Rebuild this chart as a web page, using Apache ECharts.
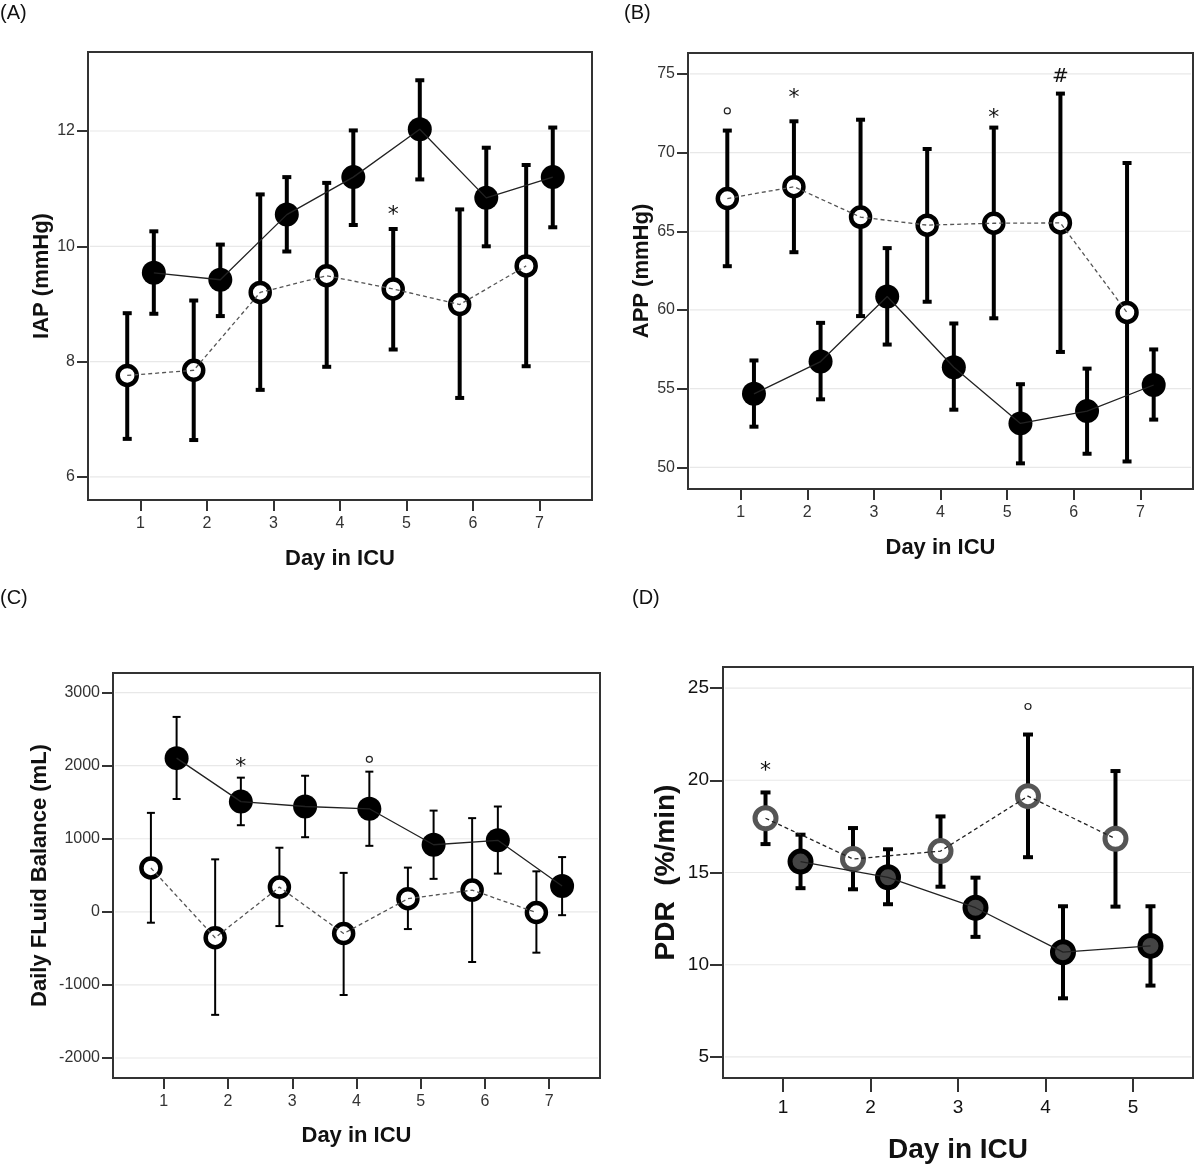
<!DOCTYPE html>
<html>
<head>
<meta charset="utf-8">
<title>IAP / APP / Fluid balance / PDR by day in ICU</title>
<script src="https://cdn.jsdelivr.net/npm/echarts@6/dist/echarts.min.js"></script>
<style>
  html, body { margin: 0; padding: 0; background: #fff; }
  #chart { width: 1200px; height: 1167px; }
</style>
</head>
<body>
<div id="chart"></div>
<script>
// x categories
const days7 = [1, 2, 3, 4, 5, 6, 7]
const days5 = [1, 2, 3, 4, 5]

// (A) IAP (mmHg): open = dashed group, filled = solid group
const iapOpen = [7.76, 7.85, 9.20, 9.49, 9.26, 8.99, 9.66]
const iapOpenLo = [6.66, 6.64, 7.51, 7.91, 8.21, 7.37, 7.92]
const iapOpenHi = [8.84, 9.06, 10.90, 11.10, 10.30, 10.64, 11.41]
const iapFilled = [9.54, 9.42, 10.55, 11.20, 12.03, 10.84, 11.20]
const iapFilledLo = [8.83, 8.79, 9.91, 10.37, 11.16, 10.00, 10.33]
const iapFilledHi = [10.26, 10.03, 11.20, 12.01, 12.88, 11.71, 12.06]
const iapTicks = [6, 8, 10, 12]
const iapNotes = [[4.8, 10.62, '*']]

// (B) APP (mmHg)
const appOpen = [67.08, 67.83, 65.90, 65.39, 65.51, 65.53, 59.84]
const appOpenLo = [62.78, 63.67, 59.61, 60.52, 59.47, 57.33, 50.37]
const appOpenHi = [71.40, 71.99, 72.09, 70.23, 71.59, 73.75, 69.34]
const appFilled = [54.67, 56.72, 60.85, 56.36, 52.79, 53.57, 55.23]
const appFilledLo = [52.58, 54.32, 57.80, 53.66, 50.25, 50.86, 53.03]
const appFilledHi = [56.79, 59.18, 63.93, 59.14, 55.28, 56.27, 57.49]
const appTicks = [50, 55, 60, 65, 70, 75]
const appNotes = [[0.8, 72.65, 'o'], [1.8, 73.8, '*'], [4.8, 72.5, '*'], [5.8, 74.8, '#']]

// (C) Daily fluid balance (mL)
const fbOpen = [600, -354, 338, -297, 179, 297, -10]
const fbOpenLo = [-149, -1410, -195, -1138, -236, -687, -559]
const fbOpenHi = [1354, 718, 877, 533, 605, 1282, 554]
const fbFilled = [2103, 1508, 1441, 1410, 918, 979, 354]
const fbFilledLo = [1544, 1185, 1021, 903, 451, 523, -46]
const fbFilledHi = [2667, 1836, 1862, 1918, 1385, 1441, 749]
const fbTicks = [-2000, -1000, 0, 1000, 2000, 3000]
const fbNotes = [[2.2, 2051, '*'], [4.2, 2087, 'o']]

// (D) PDR (%/min)
const pdrOpen = [17.94, 15.73, 16.16, 19.14, 16.83]
const pdrOpenLo = [16.54, 14.09, 14.23, 15.83, 13.15]
const pdrOpenHi = [19.34, 17.41, 18.04, 22.48, 20.50]
const pdrFilled = [15.59, 14.74, 13.09, 10.68, 11.02]
const pdrFilledLo = [14.15, 13.28, 11.51, 8.18, 8.87]
const pdrFilledHi = [17.05, 16.26, 14.72, 13.17, 13.17]
const pdrTicks = [5, 10, 15, 20, 25]
const pdrNotes = [[0.8, 20.76, '*'], [3.8, 24.0, 'o']]

const FONT = 'Liberation Sans, Arial, sans-serif'
const OFF = 0.2 // dodge of the two groups around each day

const panels = [
  {
    tag: '(A)', tagPos: [0, 3], box: [88, 52, 504, 448],
    xMin: 0.21, xMax: 7.79, yMin: 5.6, yMax: 13.37, days: days7, yTicks: iapTicks,
    yName: 'IAP (mmHg)', yGap: 35, xGap: 48, nameSize: 22, tickSize: 16, tickColor: '#333',
    open: [iapOpen, iapOpenLo, iapOpenHi], filled: [iapFilled, iapFilledLo, iapFilledHi],
    notes: iapNotes, barW: 4, capW: 4.5, big: false
  },
  {
    tag: '(B)', tagPos: [624, 3], box: [688, 53, 505, 436],
    xMin: 0.21, xMax: 7.79, yMin: 48.62, yMax: 76.33, days: days7, yTicks: appTicks,
    yName: 'APP (mmHg)', yGap: 33, xGap: 48, nameSize: 22, tickSize: 16, tickColor: '#333',
    open: [appOpen, appOpenLo, appOpenHi], filled: [appFilled, appFilledLo, appFilledHi],
    notes: appNotes, barW: 4, capW: 4.5, big: false
  },
  {
    tag: '(C)', tagPos: [0, 588], box: [113, 673, 487, 405],
    xMin: 0.21, xMax: 7.79, yMin: -2274, yMax: 3268, days: days7, yTicks: fbTicks,
    yName: 'Daily FLuid Balance (mL)', yGap: 62, xGap: 47, nameSize: 22, tickSize: 16, tickColor: '#333',
    open: [fbOpen, fbOpenLo, fbOpenHi], filled: [fbFilled, fbFilledLo, fbFilledHi],
    notes: fbNotes, barW: 2, capW: 4, big: false
  },
  {
    tag: '(D)', tagPos: [632, 588], box: [723, 667, 470, 411],
    xMin: 0.314, xMax: 5.686, yMin: 3.86, yMax: 26.14, days: days5, yTicks: pdrTicks,
    yName: 'PDR  (%/min)', yGap: 43, xGap: 58, nameSize: 28, tickSize: 19, tickColor: '#111',
    open: [pdrOpen, pdrOpenLo, pdrOpenHi], filled: [pdrFilled, pdrFilledLo, pdrFilledHi],
    notes: pdrNotes, barW: 4, capW: 5, big: true
  }
]

const grids = []
const xAxes = []
const yAxes = []
const series = []
const graphics = []

panels.forEach((p, k) => {
  grids.push({
    left: p.box[0], top: p.box[1], width: p.box[2], height: p.box[3],
    show: true, borderColor: '#333', borderWidth: 2, backgroundColor: '#fff',
    containLabel: false, outerBoundsMode: 'none'
  })
  xAxes.push({
    gridIndex: k, type: 'value', min: p.xMin, max: p.xMax,
    name: 'Day in ICU', nameLocation: 'middle', nameGap: p.xGap,
    nameTextStyle: { fontFamily: FONT, fontWeight: 'bold', fontSize: p.nameSize, color: '#111' },
    axisLine: { show: true, onZero: false, lineStyle: { color: '#333', width: 2 } },
    axisTick: { show: true, length: p.big ? 14 : 11, customValues: p.days, lineStyle: { color: '#333', width: 2 } },
    axisLabel: { customValues: p.days, margin: p.big ? 20 : 16, fontFamily: FONT, fontSize: p.tickSize, color: p.tickColor },
    splitLine: { show: false }
  })
  yAxes.push({
    gridIndex: k, type: 'value', min: p.yMin, max: p.yMax,
    name: p.yName, nameLocation: 'middle', nameGap: p.yGap, nameRotate: 90,
    nameTextStyle: { fontFamily: FONT, fontWeight: 'bold', fontSize: p.nameSize, color: '#111' },
    axisLine: { show: true, onZero: false, lineStyle: { color: '#333', width: 2 } },
    axisTick: { show: true, length: p.big ? 13 : 11, customValues: p.yTicks, lineStyle: { color: '#333', width: 2 } },
    axisLabel: {
      customValues: p.yTicks, margin: p.big ? 14 : 13, fontFamily: FONT, fontSize: p.tickSize, color: p.tickColor,
      formatter: v => String(v)
    },
    splitLine: { show: false }
  })

  // light horizontal gridlines at the tick values
  series.push({
    type: 'custom', xAxisIndex: k, yAxisIndex: k, z: 1, silent: true,
    data: p.yTicks.map(v => [p.xMin, v]),
    renderItem: (params, api) => {
      const cs = params.coordSys
      const y = api.coord([api.value(0), api.value(1)])[1]
      return {
        type: 'line',
        shape: { x1: cs.x + 2, y1: y, x2: cs.x + cs.width - 2, y2: y },
        style: { stroke: '#e8e8e8', lineWidth: 1.2 }
      }
    }
  })

  const groups = [
    { vals: p.open, off: -OFF, open: true },
    { vals: p.filled, off: OFF, open: false }
  ]

  groups.forEach(g => {
    const [mid, lo, hi] = g.vals
    // error bars
    series.push({
      type: 'custom', xAxisIndex: k, yAxisIndex: k, z: 2, silent: true,
      data: p.days.map((d, i) => [d + g.off, lo[i], hi[i]]),
      encode: { x: 0, y: [1, 2] },
      renderItem: (params, api) => {
        const top = api.coord([api.value(0), api.value(2)])
        const bot = api.coord([api.value(0), api.value(1)])
        const st = { stroke: '#000', lineWidth: p.barW, lineCap: 'butt' }
        const cw = p.capW
        return {
          type: 'group',
          children: [
            { type: 'line', shape: { x1: top[0], y1: top[1], x2: bot[0], y2: bot[1] }, style: st },
            { type: 'line', shape: { x1: top[0] - cw, y1: top[1], x2: top[0] + cw, y2: top[1] }, style: st },
            { type: 'line', shape: { x1: bot[0] - cw, y1: bot[1], x2: bot[0] + cw, y2: bot[1] }, style: st }
          ]
        }
      }
    })
    // markers
    let itemStyle
    let size
    if (p.big) {
      size = 21
      itemStyle = g.open
        ? { color: '#fff', borderColor: '#555', borderWidth: 5, opacity: 1 }
        : { color: '#444', borderColor: '#000', borderWidth: 5, opacity: 1 }
    } else {
      size = g.open ? 19 : 24
      itemStyle = g.open
        ? { color: '#fff', borderColor: '#000', borderWidth: 4.5, opacity: 1 }
        : { color: '#000', borderColor: '#000', borderWidth: 0, opacity: 1 }
    }
    series.push({
      type: 'scatter', xAxisIndex: k, yAxisIndex: k, z: 3, silent: true,
      symbol: 'circle', symbolSize: size, itemStyle: itemStyle,
      data: p.days.map((d, i) => [d + g.off, mid[i]])
    })
    // connecting line, drawn over the markers
    series.push({
      type: 'line', xAxisIndex: k, yAxisIndex: k, z: 4, silent: true,
      showSymbol: false, symbol: 'none',
      lineStyle: g.open
        ? { color: p.big ? '#222' : '#555', width: 1.3, type: [4, 3] }
        : { color: '#222', width: 1.3, type: 'solid' },
      data: p.days.map((d, i) => [d + g.off, mid[i]])
    })
  })

  // significance marks
  series.push({
    type: 'custom', xAxisIndex: k, yAxisIndex: k, z: 5, silent: true,
    data: p.notes.map(n => [n[0], n[1]]),
    renderItem: (params, api) => {
      const c = api.coord([api.value(0), api.value(1)])
      const t = p.notes[params.dataIndex][2]
      if (t === 'o') {
        return { type: 'circle', shape: { cx: c[0], cy: c[1], r: 3 }, style: { fill: '#fff', stroke: '#222', lineWidth: 1.2 } }
      }
      return {
        type: 'text',
        x: c[0], y: t === '*' ? c[1] + 5 : c[1],
        style: {
          text: t, fill: '#111', align: 'center', verticalAlign: 'middle',
          font: (t === '#' ? '20px ' : '22px ') + 'DejaVu Sans, sans-serif'
        }
      }
    }
  })

  graphics.push({
    type: 'text', left: p.tagPos[0], top: p.tagPos[1],
    style: { text: p.tag, font: '20px ' + FONT, fill: '#111' }
  })
})

const chart = echarts.init(document.getElementById('chart'), null, { renderer: 'canvas' })
chart.setOption({
  animation: false,
  backgroundColor: '#fff',
  grid: grids,
  xAxis: xAxes,
  yAxis: yAxes,
  series: series,
  graphic: graphics
})
</script>
</body>
</html>
